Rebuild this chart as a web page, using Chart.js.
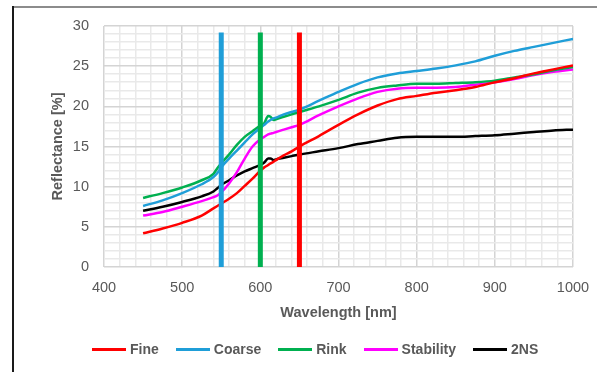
<!DOCTYPE html>
<html>
<head>
<meta charset="utf-8">
<script src="https://cdn.jsdelivr.net/npm/chart.js@4"></script>
<style>
  html, body { margin: 0; padding: 0; background: #fff; }
  #wrap { position: relative; width: 597px; height: 372px; overflow: hidden; font-family: "Liberation Sans", Arial, sans-serif; }
  #c { position: absolute; left: 0; top: 0; }
  .frame-top { position: absolute; left: 12px; top: 6px; width: 585px; height: 2px; background: #8c8c8c; }
  .frame-left { position: absolute; left: 12px; top: 6px; width: 2px; height: 366px; background: #1a1a1a; }
  #legend { position: absolute; left: 92px; top: 340px; height: 18px; display: flex; align-items: center; gap: 17px; }
  .lg { display: flex; align-items: center; gap: 4px; font-size: 14px; font-weight: bold; color: #595959; }
  .lg i { display: inline-block; width: 34px; height: 3px; }
</style>
</head>
<body>
<div id="wrap">
  <canvas id="c" width="597" height="372"></canvas>
  <div class="frame-top"></div>
  <div class="frame-left"></div>
  <div id="legend"></div>
</div>
<script>
// wavelength [nm] shared by all series
const wavelengths = [450,475,500,525,540,545,550,560,570,580,590,600,605,610,613,617,620,630,640,650,675,700,725,750,775,800,825,850,875,900,925,950,975,1000];

const seriesNames  = ['Fine', 'Coarse', 'Rink', 'Stability', '2NS'];
const seriesColors = ['#FF0000', '#1F9ED8', '#00B050', '#FF00FF', '#000000'];

const fine      = [4.2,4.8,5.5,6.4,7.3,7.6,7.9,8.5,9.2,10.1,11.0,12.0,12.4,12.7,12.9,13.1,13.3,13.9,14.4,15.0,16.3,17.7,19.0,20.1,20.9,21.3,21.7,22.0,22.4,23.0,23.5,24.1,24.6,25.1];
const coarse    = [7.6,8.3,9.2,10.3,11.2,11.7,12.4,13.5,14.5,15.5,16.5,17.3,17.7,18.1,18.3,18.5,18.6,19.0,19.3,19.6,20.7,21.8,22.8,23.6,24.1,24.4,24.7,25.1,25.6,26.3,26.9,27.4,27.9,28.4];
const rink      = [8.6,9.2,9.9,10.8,11.6,12.3,12.9,14.0,15.2,16.2,16.9,17.6,17.9,18.8,18.7,18.3,18.4,18.7,19.0,19.3,20.0,20.8,21.7,22.3,22.6,22.8,22.8,22.9,23.0,23.2,23.6,24.0,24.5,24.9];
const stability = [6.4,6.85,7.5,8.2,8.7,8.9,9.3,10.4,11.8,13.5,15.0,15.9,16.2,16.5,16.6,16.7,16.8,17.1,17.4,17.7,18.9,20.0,21.0,21.8,22.2,22.3,22.3,22.4,22.7,23.0,23.4,23.9,24.3,24.6];
const ns2       = [7.0,7.5,8.1,8.8,9.4,9.8,10.2,10.8,11.4,11.9,12.3,12.7,13.0,13.5,13.5,13.3,13.4,13.6,13.8,14.0,14.4,14.8,15.3,15.7,16.1,16.2,16.2,16.2,16.3,16.4,16.6,16.8,17.0,17.1];
const seriesValues = [fine, coarse, rink, stability, ns2];

// vertical marker bars
const markerWavelengths = [550, 600, 650];
const markerColors      = ['#1F9ED8', '#00B050', '#FF0000'];
const markerRange       = [0, 29.2];

const xTicks = { min: 400, max: 1000, step: 20, major: 100 };
const yTicks = { min: 0, max: 30, step: 1, major: 5 };

const markerSets = markerWavelengths.map((w, i) => ({
  label: 'm' + w,
  data: markerRange.map(v => ({ x: w, y: v })),
  borderColor: markerColors[i], borderWidth: 5, borderCapStyle: 'butt',
  pointRadius: 0, order: 0,
}));
const curveSets = seriesNames.map((n, i) => ({
  label: n,
  data: wavelengths.map((w, j) => ({ x: w, y: seriesValues[i][j] })),
  borderColor: seriesColors[i], borderWidth: 2.5,
  pointRadius: 0, cubicInterpolationMode: 'monotone', order: 1,
}));

const tickFont = { family: '"Liberation Sans", Arial, sans-serif', size: 14.5 };
const titleFont = { family: '"Liberation Sans", Arial, sans-serif', size: 14.5, weight: 'bold' };
const gridColor = major => ctx => (ctx.tick && ctx.tick.value % major === 0) ? '#D4D4D4' : '#E9E9E9';

new Chart(document.getElementById('c'), {
  type: 'line',
  data: { datasets: [...markerSets, ...curveSets] },
  options: {
    responsive: false, animation: false, devicePixelRatio: 1,
    layout: { padding: { left: 45, top: 26, right: 24, bottom: 50 } },
    plugins: { legend: { display: false }, tooltip: { enabled: false } },
    scales: {
      x: {
        type: 'linear', min: xTicks.min, max: xTicks.max,
        afterFit: s => { s.height = 55; s.paddingLeft = 0; s.paddingRight = 0; },
        border: { display: false },
        grid: { color: gridColor(xTicks.major), lineWidth: 1.5, drawTicks: false },
        ticks: { stepSize: xTicks.step, autoSkip: false, maxRotation: 0, padding: 12, color: '#595959', font: tickFont,
                 callback: v => v % xTicks.major === 0 ? String(v) : '' },
        title: { display: true, text: 'Wavelength [nm]', color: '#595959', font: titleFont, padding: { top: 0, bottom: 0 } },
      },
      y: {
        min: yTicks.min, max: yTicks.max,
        afterFit: s => { s.width = 59; },
        border: { display: false },
        grid: { color: gridColor(yTicks.major), lineWidth: 1.5, drawTicks: false },
        ticks: { stepSize: yTicks.step, autoSkip: false, padding: 15, color: '#595959', font: tickFont,
                 callback: v => v % yTicks.major === 0 ? String(v) : '' },
        title: { display: true, text: 'Reflectance [%]', color: '#595959', font: titleFont, padding: { top: 4, bottom: 0 } },
      },
    },
  },
});

document.getElementById('legend').innerHTML = seriesNames.map((n, i) =>
  `<span class="lg"><i style="background:${seriesColors[i]}"></i>${n}</span>`).join('');
</script>
</body>
</html>
